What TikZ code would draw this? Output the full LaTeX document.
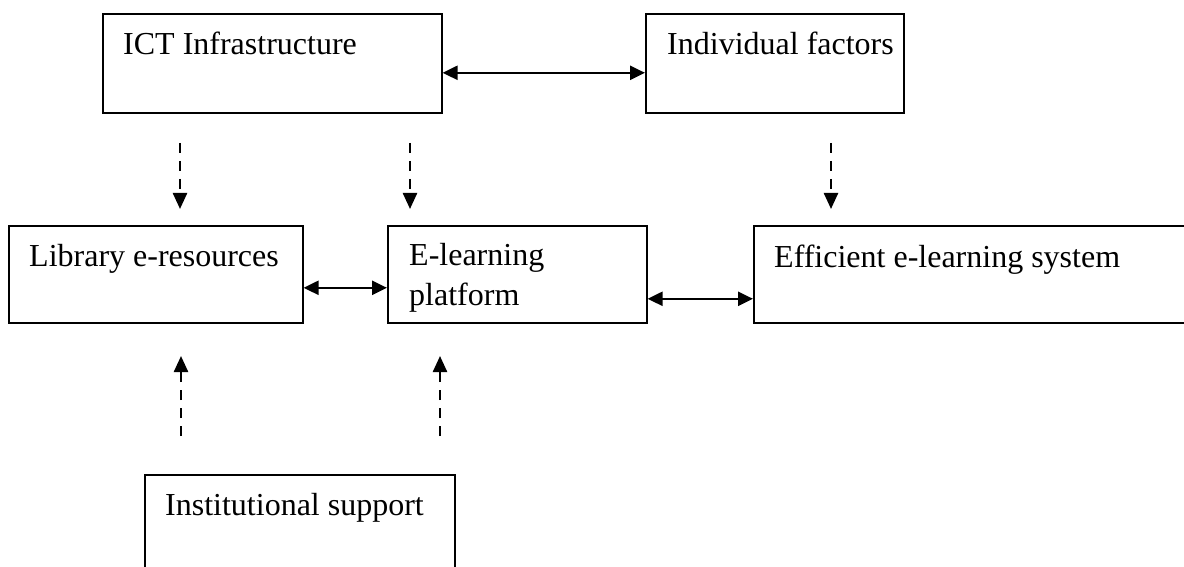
\documentclass[tikz,border=0pt]{standalone}
\usepackage{fontspec}
\setmainfont{Liberation Serif}
\usetikzlibrary{arrows.meta}
\tikzset{
  box/.style={draw, line width=1.6pt, rectangle, inner sep=0pt, anchor=north west},
  txt/.style={inner sep=0pt, anchor=base west, font=\fontsize{32}{39}\selectfont},
  biarrow/.style={line width=2.4pt, {Triangle[length=15pt,width=14pt]}-{Triangle[length=15pt,width=14pt]}},
  dasharrow/.style={line width=2.4pt, dash pattern=on 10pt off 8pt, -{Triangle[length=16pt,width=14pt]}}
}
\begin{document}
\begin{tikzpicture}[x=1pt,y=-1pt]
\useasboundingbox (0,0) rectangle (1184,567);
\clip (0,0) rectangle (1184,567);
% boxes
\node[box, minimum width=339pt, minimum height=99pt] (ict) at (102,13) {};
\node[box, minimum width=258pt, minimum height=99pt] (ind) at (645,13) {};
\node[box, minimum width=294pt, minimum height=97pt] (lib) at (8,225) {};
\node[box, minimum width=259pt, minimum height=97pt] (elp) at (387,225) {};
\node[box, minimum width=460pt, minimum height=97pt] (eff) at (753,225) {};
\node[box, minimum width=310pt, minimum height=140pt] (ins) at (144,474) {};
% texts
\node[txt] (ictt) at (123,55) {ICT Infrastructure};
\node[txt] (indt) at (667,55) {Individual factors};
\node[txt] (libt) at (29,266) {Library e-resources};
\node[txt] (elpt1) at (409,265) {E-learning};
\node[txt] (elpt2) at (409,305) {platform};
\node[txt] (efft) at (774,267) {Efficient e-learning system};
\node[txt] (inst) at (165,515) {Institutional support};
% solid connectors
\draw[biarrow] ([yshift=-9.5pt]ict.east) -- ([yshift=-9.5pt]ind.west);
\draw[biarrow] ([yshift=-13.5pt]lib.east) -- ([yshift=-13.5pt]elp.west);
\draw[biarrow] ([yshift=-24.5pt]elp.east) -- ([yshift=-24.5pt]eff.west);
% dashed arrows
\coordinate (d1s) at (180,143); \coordinate (d1e) at (180,209);
\coordinate (d2s) at (410,143); \coordinate (d2e) at (410,209);
\coordinate (d3s) at (831,143); \coordinate (d3e) at (831,209);
\coordinate (u1s) at (181,436); \coordinate (u1e) at (181,356);
\coordinate (u2s) at (440,436); \coordinate (u2e) at (440,356);
\draw[dasharrow] (d1s) -- (d1e);
\draw[dasharrow] (d2s) -- (d2e);
\draw[dasharrow] (d3s) -- (d3e);
\draw[dasharrow] (u1s) -- (u1e);
\draw[dasharrow] (u2s) -- (u2e);
\end{tikzpicture}
\end{document}
